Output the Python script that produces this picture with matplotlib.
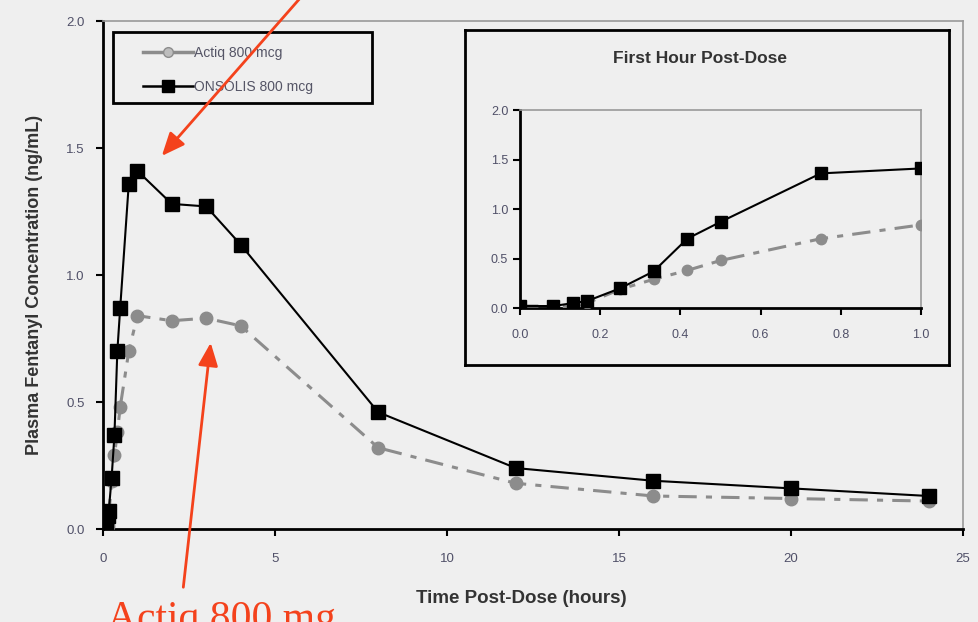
import matplotlib

matplotlib.use("Agg")
import matplotlib.pyplot as plt  # noqa: E402
from matplotlib.lines import Line2D  # noqa: E402
from matplotlib.patches import Rectangle  # noqa: E402

BG = "#efefef"
RED = "#f4421c"
TICK = "#505068"
GRAY = "#8c8c8c"

plt.rcParams["font.family"] = ["Liberation Sans", "DejaVu Sans"]

# sampling times (hours) and plasma fentanyl concentration (ng/mL)
hours = [0, 0.083, 0.133, 0.167, 0.25, 0.333, 0.417, 0.5, 0.75, 1, 2, 3, 4, 8, 12, 16, 20, 24]
onsolis = [0.02, 0.02, 0.05, 0.07, 0.20, 0.37, 0.70, 0.87, 1.36, 1.41, 1.28, 1.27, 1.12, 0.46, 0.24, 0.19, 0.16, 0.13]
actiq = [0.02, 0.02, 0.01, 0.05, 0.19, 0.29, 0.38, 0.48, 0.70, 0.84, 0.82, 0.83, 0.80, 0.32, 0.18, 0.13, 0.12, 0.11]

main_xticks = [0, 5, 10, 15, 20, 25]
yticks = [0.0, 0.5, 1.0, 1.5, 2.0]
inset_xticks = [0.0, 0.2, 0.4, 0.6, 0.8, 1.0]

first_hour = [i for i, t in enumerate(hours) if t <= 1]


def style(ax, fs):
    ax.set_facecolor(BG)
    for s in ("left", "bottom"):
        ax.spines[s].set_linewidth(2)
        ax.spines[s].set_color("black")
    for s in ("top", "right"):
        ax.spines[s].set_linewidth(1.2)
        ax.spines[s].set_color("#999999")
    ax.tick_params(direction="out", length=5, width=1.5, colors="black",
                   labelcolor=TICK, labelsize=fs, top=False, right=False)


def draw(ax, idx, ms_sq, ms_ci):
    t = [hours[i] for i in idx]
    ax.plot(t, [actiq[i] for i in idx], color=GRAY, lw=2.2, ls=(0, (6, 3, 2, 3)),
            marker="o", ms=ms_ci, mec=GRAY, mfc=GRAY, label="Actiq 800 mcg", zorder=3)
    ax.plot(t, [onsolis[i] for i in idx], color="black", lw=1.5, ls="-",
            marker="s", ms=ms_sq, mec="black", mfc="black", label="ONSOLIS 800 mcg", zorder=4)


fig = plt.figure(figsize=(9.79, 6.22), dpi=100, facecolor=BG)

ax = fig.add_axes([0.1052, 0.1495, 0.8784, 0.8167])
style(ax, 9.5)
draw(ax, range(len(hours)), 10, 9)
ax.set_xlim(0, 25)
ax.set_ylim(0, 2.0)
ax.set_xticks(main_xticks)
ax.set_xticklabels([str(v) for v in main_xticks])
ax.set_yticks(yticks)
ax.set_yticklabels([f"{v:.1f}" for v in yticks])
ax.tick_params(axis="x", pad=12)
ax.tick_params(axis="y", pad=8)
ax.set_xlabel("Time Post-Dose (hours)", fontsize=13.5, fontweight="bold", color="#333333")
ax.set_ylabel("Plasma Fentanyl Concentration (ng/mL)", fontsize=13, fontweight="bold",
              color="#333333")
ax.xaxis.set_label_coords(0.487, -0.12)
ax.yaxis.set_label_coords(-0.0698, 0.48)

# legend box drawn by hand so the padding matches the original
ax.add_patch(Rectangle((0.0116, 0.8386), 0.3012, 0.1398, transform=ax.transAxes,
                       facecolor=BG, edgecolor="black", lw=2, zorder=5))
handles = [Line2D([], [], color=GRAY, lw=2.5, marker="o", ms=7, mfc="#bdbdbd", mec=GRAY),
           Line2D([], [], color="black", lw=1.8, marker="s", ms=9, mfc="black")]
leg = ax.legend(handles, ["Actiq 800 mcg", "ONSOLIS 800 mcg"], loc="upper left",
                bbox_to_anchor=(0.0465, 0.951), frameon=False, fontsize=10,
                handlelength=3.6, labelspacing=1.45, borderpad=0, borderaxespad=0,
                handletextpad=0.1)
leg.set_zorder(6)
for txt in leg.get_texts():
    txt.set_color("#555566")

# framed panel holding the first-hour inset
frame = fig.add_axes([0.475, 0.4132, 0.4944, 0.5386], zorder=2)
frame.set_facecolor(BG)
frame.set_xticks([])
frame.set_yticks([])
for s in frame.spines.values():
    s.set_linewidth(2)
    s.set_color("black")
frame.text(0.485, 0.915, "First Hour Post-Dose", transform=frame.transAxes,
           ha="center", va="center", fontsize=12.5, fontweight="bold", color="#333333")

ins = fig.add_axes([0.5312, 0.5048, 0.4096, 0.3183], zorder=3)
style(ins, 9)
draw(ins, first_hour, 8.5, 7.5)
ins.set_xlim(0, 1.0)
ins.set_ylim(0, 2.0)
ins.set_xticks(inset_xticks)
ins.set_xticklabels([f"{v:.1f}" for v in inset_xticks])
ins.set_yticks(yticks)
ins.set_yticklabels([f"{v:.1f}" for v in yticks])
ins.tick_params(axis="x", pad=10)

# red call-out arrows and label from the slide
W, H = 979, 622
ax.annotate("", xy=(160 / W, 1 - 158 / H), xytext=(302 / W, 1 + 4 / H),
            xycoords="figure fraction", textcoords="figure fraction",
            arrowprops=dict(arrowstyle="-|>,head_length=1.4,head_width=0.6",
                            color=RED, lw=2), annotation_clip=False, zorder=10)
ax.annotate("", xy=(211 / W, 1 - 340 / H), xytext=(183 / W, 1 - 590 / H),
            xycoords="figure fraction", textcoords="figure fraction",
            arrowprops=dict(arrowstyle="-|>,head_length=1.4,head_width=0.6",
                            color=RED, lw=2), annotation_clip=False, zorder=10)
fig.text(107 / W, 1 - 630 / H, "Actiq 800 mg", fontsize=30, color=RED,
         family=["Liberation Serif", "DejaVu Serif"], ha="left", va="baseline")

fig.savefig("out.png", dpi=100, facecolor=BG)
